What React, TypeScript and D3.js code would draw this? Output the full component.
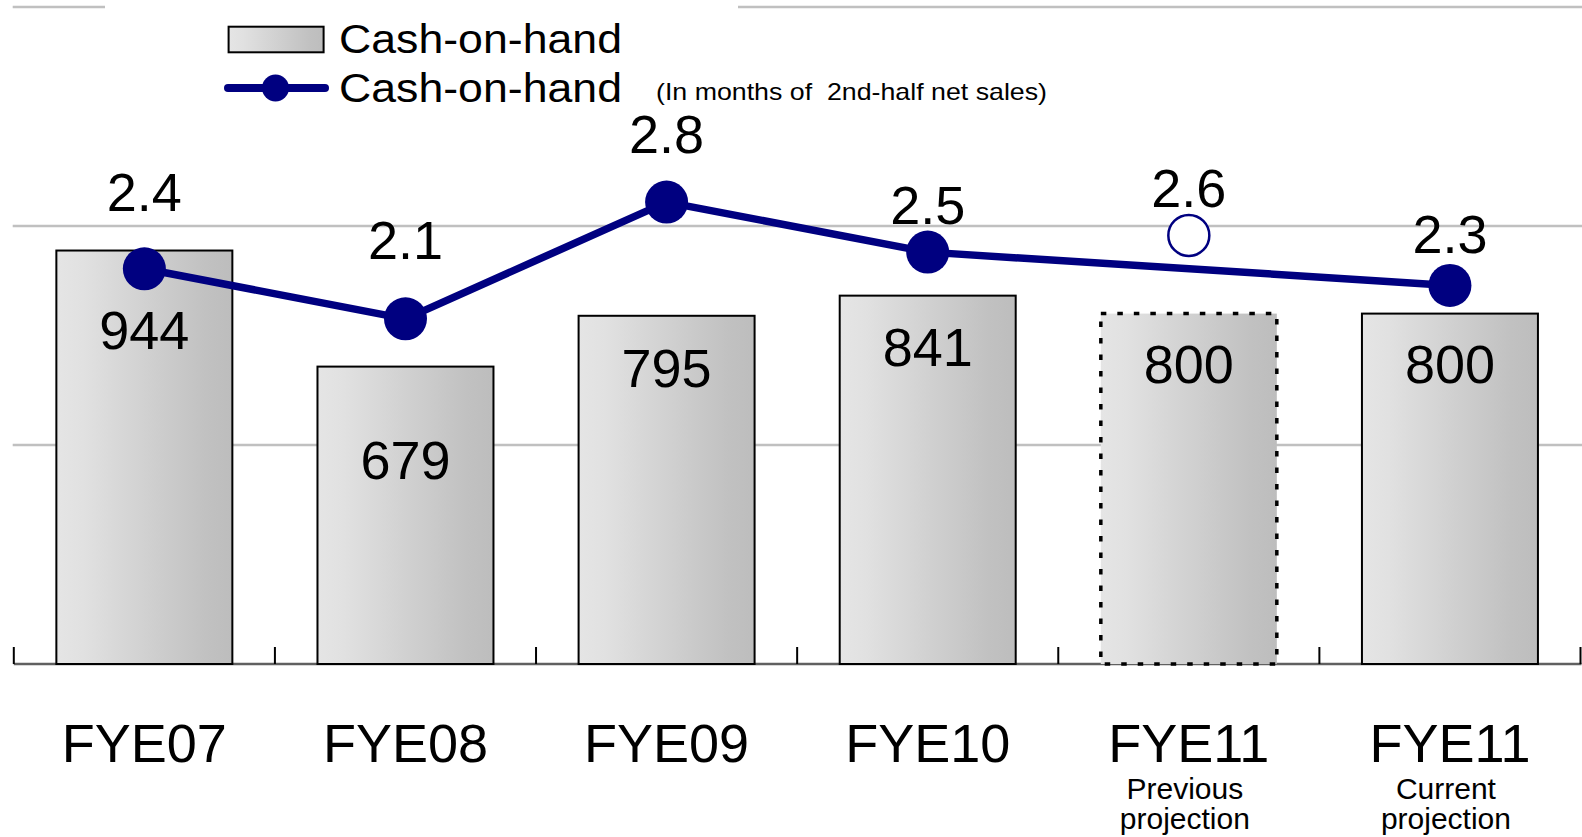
import React from 'react';
import * as d3 from 'd3';

// ---------- data ----------
const categories = ['FYE07', 'FYE08', 'FYE09', 'FYE10', 'FYE11', 'FYE11'];
const subLabels: string[][] = [[], [], [], [], ['Previous', 'projection'], ['Current', 'projection']];
const cashValues = [944, 679, 795, 841, 800, 800];
const isPreviousProjection = [false, false, false, false, true, false];
const monthsValues = [2.4, 2.1, 2.8, 2.5, 2.6, 2.3];
const monthsOnLine = [true, true, true, true, false, true];
const gridTicks = [500, 1000, 1500];
const legendLabels = ['Cash-on-hand', 'Cash-on-hand'];
const legendNote = '(In months of  2nd-half net sales)';

// ---------- layout ----------
const W = 1582;
const H = 837;
const plotLeft = 13.8;
const plotRight = 1580.5;
const axisY = 664;
const plotTop = 7;
const barLabelDy = [98, 112, 71, 70, 69, 69];
const lineLabelDy = [-58, -60, -49, -28, -28.5, -32];
const NAVY = '#000080';
const FONT = '"Liberation Sans", Arial, Helvetica, sans-serif';

export default function App() {
  const idx = d3.range(categories.length).map(String);
  const x = d3.scaleBand<string>().domain(idx).range([plotLeft, plotRight]).padding(0);
  const y = d3.scaleLinear().domain([0, 1500]).range([axisY, plotTop]);
  const y2 = d3.scaleLinear().domain([0.03, 3.97]).range([axisY, plotTop]);
  const bw = x.bandwidth() * 0.674;
  const cx = (i: number) => (x(String(i)) as number) + x.bandwidth() / 2;

  const linePts = monthsValues
    .map((v, i) => ({ v, i }))
    .filter((d) => monthsOnLine[d.i]);
  const lineGen = d3
    .line<{ v: number; i: number }>()
    .x((d) => cx(d.i))
    .y((d) => y2(d.v));

  const tickXs = d3.range(categories.length + 1).map((k) => plotLeft + k * x.step());

  return (
    <svg
      width={W}
      height={H}
      style={{ position: 'absolute', left: 0, top: 0, display: 'block', background: '#fff' }}
      fontFamily={FONT}
    >
      <defs>
        <linearGradient id="barGrad" x1="0" y1="0" x2="1" y2="0">
          <stop offset="0%" stopColor="#e5e5e5" />
          <stop offset="15%" stopColor="#e1e1e1" />
          <stop offset="85%" stopColor="#c1c1c1" />
          <stop offset="100%" stopColor="#bdbdbd" />
        </linearGradient>
      </defs>

      {/* gridlines */}
      {gridTicks.map((t) => (
        <line key={t} x1={12.7} x2={W} y1={y(t)} y2={y(t)} stroke="#c0c0c0" strokeWidth={2.7} />
      ))}
      {/* legend background covering top gridline */}
      <rect x={105} y={0} width={633} height={20} fill="#fff" />

      {/* axis */}
      <line x1={plotLeft} x2={plotRight + 1} y1={axisY} y2={axisY} stroke="#606060" strokeWidth={2.5} />
      {tickXs.map((tx, k) => (
        <line key={k} x1={tx} x2={tx} y1={axisY - 17} y2={axisY} stroke="#000" strokeWidth={2} />
      ))}

      {/* bars */}
      {cashValues.map((v, i) => (
        <rect
          key={i}
          x={cx(i) - bw / 2}
          y={y(v)}
          width={bw}
          height={y(0) - y(v)}
          fill="url(#barGrad)"
          stroke="#000"
          strokeWidth={isPreviousProjection[i] ? 3.5 : 2}
          strokeDasharray={isPreviousProjection[i] ? '5.5 11' : undefined}
        />
      ))}
      {cashValues.map((v, i) => (
        <text key={i} x={cx(i)} y={y(v) + barLabelDy[i]} textAnchor="middle" fontSize={54} fill="#000">
          {d3.format('d')(v)}
        </text>
      ))}

      {/* line */}
      <path d={lineGen(linePts) || ''} fill="none" stroke={NAVY} strokeWidth={7.5} strokeLinejoin="round" />
      {monthsValues.map((v, i) =>
        monthsOnLine[i] ? (
          <circle key={i} cx={cx(i)} cy={y2(v)} r={21.5} fill={NAVY} />
        ) : (
          <circle key={i} cx={cx(i)} cy={y2(v)} r={20.5} fill="#fff" stroke={NAVY} strokeWidth={2.5} />
        )
      )}
      {monthsValues.map((v, i) => (
        <text key={i} x={cx(i)} y={y2(v) + lineLabelDy[i]} textAnchor="middle" fontSize={54} fill="#000">
          {d3.format('.1f')(v)}
        </text>
      ))}

      {/* category labels */}
      {categories.map((c, i) => (
        <g key={i}>
          <text x={cx(i)} y={762} textAnchor="middle" fontSize={54} fill="#000">
            {c}
          </text>
          {subLabels[i].map((s, j) => (
            <text key={j} x={cx(i) - 4} y={799 + j * 30} textAnchor="middle" fontSize={30} fill="#000">
              {s}
            </text>
          ))}
        </g>
      ))}

      {/* legend */}
      <rect x={228.6} y={26.7} width={95} height={25.6} fill="url(#barGrad)" stroke="#000" strokeWidth={2} />
      <text x={339} y={53} fontSize={41} textLength={283} lengthAdjust="spacingAndGlyphs" fill="#000">
        {legendLabels[0]}
      </text>
      <line x1={228} x2={325} y1={88} y2={88} stroke={NAVY} strokeWidth={8} strokeLinecap="round" />
      <circle cx={275.5} cy={88} r={13.5} fill={NAVY} />
      <text x={339} y={102} fontSize={41} textLength={283} lengthAdjust="spacingAndGlyphs" fill="#000">
        {legendLabels[1]}
      </text>
      <text
        x={656}
        y={100}
        fontSize={24}
        textLength={391}
        lengthAdjust="spacingAndGlyphs"
        fill="#000"
        style={{ whiteSpace: 'pre' }}
      >
        {legendNote}
      </text>
    </svg>
  );
}
